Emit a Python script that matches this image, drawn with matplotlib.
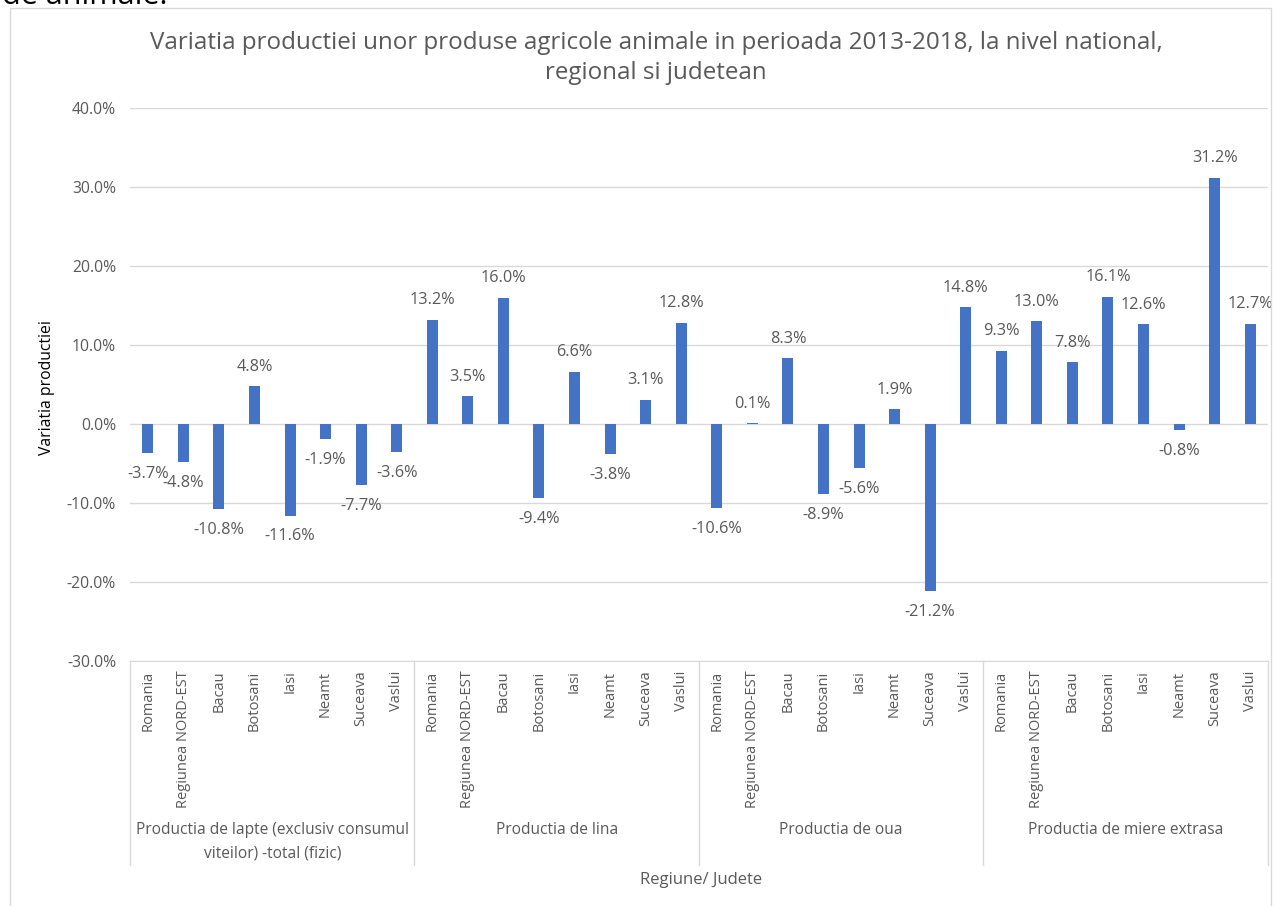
import matplotlib
matplotlib.use("Agg")
import matplotlib.pyplot as plt
import matplotlib.transforms as mtransforms
from matplotlib.patches import Rectangle
from matplotlib.ticker import FuncFormatter, MultipleLocator

plt.rcParams['font.family'] = ['Open Sans', 'DejaVu Sans']

groups = ["Productia de lapte (exclusiv consumul\nviteilor) -total (fizic)",
          "Productia de lina", "Productia de oua", "Productia de miere extrasa"]
regions = ["Romania", "Regiunea NORD-EST", "Bacau", "Botosani", "Iasi", "Neamt", "Suceava", "Vaslui"]
lapte = [-3.7, -4.8, -10.8, 4.8, -11.6, -1.9, -7.7, -3.6]
lina = [13.2, 3.5, 16.0, -9.4, 6.6, -3.8, 3.1, 12.8]
oua = [-10.6, 0.1, 8.3, -8.9, -5.6, 1.9, -21.2, 14.8]
miere = [9.3, 13.0, 7.8, 16.1, 12.6, -0.8, 31.2, 12.7]

title = "Variatia productiei unor produse agricole animale in perioada 2013-2018, la nivel national,\nregional si judetean"
ylabel = "Variatia productiei"
xlabel = "Regiune/ Judete"

values = lapte + lina + oua + miere
labels = regions * 4
n = len(values)
xs = list(range(n))

W, H = 1279, 906
fig = plt.figure(figsize=(W / 100, H / 100), dpi=100)
fig.patch.set_facecolor("white")

# outer chart border
fig.patches.append(Rectangle((10 / W, -0.02), 1261 / W, 1 - 8 / H + 0.02, transform=fig.transFigure,
                             fill=False, edgecolor="#d9d9d9", linewidth=1.0))
fig.text(2 / W, 1 - 4 / H, "de animale.", fontsize=22, color="black", va="baseline", ha="left")

left, right, top, bottom = 130, 1268, 108, 661
ax = fig.add_axes([left / W, 1 - bottom / H, (right - left) / W, (bottom - top) / H])

gray = "#595959"
ax.bar(xs, values, width=0.31, color="#4472C4", zorder=3)
ax.set_xlim(-0.5, n - 0.5)
ax.set_ylim(-30, 40)
ax.yaxis.set_major_locator(MultipleLocator(10))
ax.yaxis.set_major_formatter(FuncFormatter(lambda v, p: f"{v:.1f}%"))
ax.grid(axis="y", color="#d9d9d9", linewidth=1.0, zorder=0)
for s in ["top", "right", "left"]:
    ax.spines[s].set_visible(False)
ax.spines["bottom"].set_color("#d9d9d9")
ax.tick_params(axis="y", length=0, pad=10, labelsize=11.3, labelcolor=gray)
ax.set_xticks(xs)
ax.set_xticklabels(labels, rotation=90, va="top", ha="center")
ax.tick_params(axis="x", length=0, pad=7, labelsize=10.5, labelcolor=gray)

for x, v in zip(xs, values):
    off = 14 if v >= 0 else -15
    ax.annotate(f"{v:.1f}%", (x, v), xytext=(0, off), textcoords="offset points",
                ha="center", va="center", fontsize=11.7, color=gray, zorder=4)

trans = mtransforms.blended_transform_factory(ax.transData, ax.transAxes)
box_bottom = -(865 - bottom) / (bottom - top)
for b in [-0.5, 7.5, 15.5, 23.5, 31.5]:
    ax.plot([b, b], [0, box_bottom], transform=trans, color="#d9d9d9", linewidth=1.0, clip_on=False)
for i, g in enumerate(groups):
    ax.text(i * 8 + 3.5, -(822 - bottom) / (bottom - top), g, transform=trans, ha="center", va="top",
            fontsize=11.2, color=gray, linespacing=1.65)

fig.text(656 / W, 1 - 58 / H, title, ha="center", va="center", fontsize=17.4, color=gray, linespacing=1.32)
fig.text(47 / W, 1 - 388 / H, ylabel, rotation=90, ha="center", va="center", fontsize=11.3, color="black")
fig.text(701 / W, 1 - 880 / H, xlabel, ha="center", va="center", fontsize=12, color=gray)

fig.savefig("out.png", dpi=100)
